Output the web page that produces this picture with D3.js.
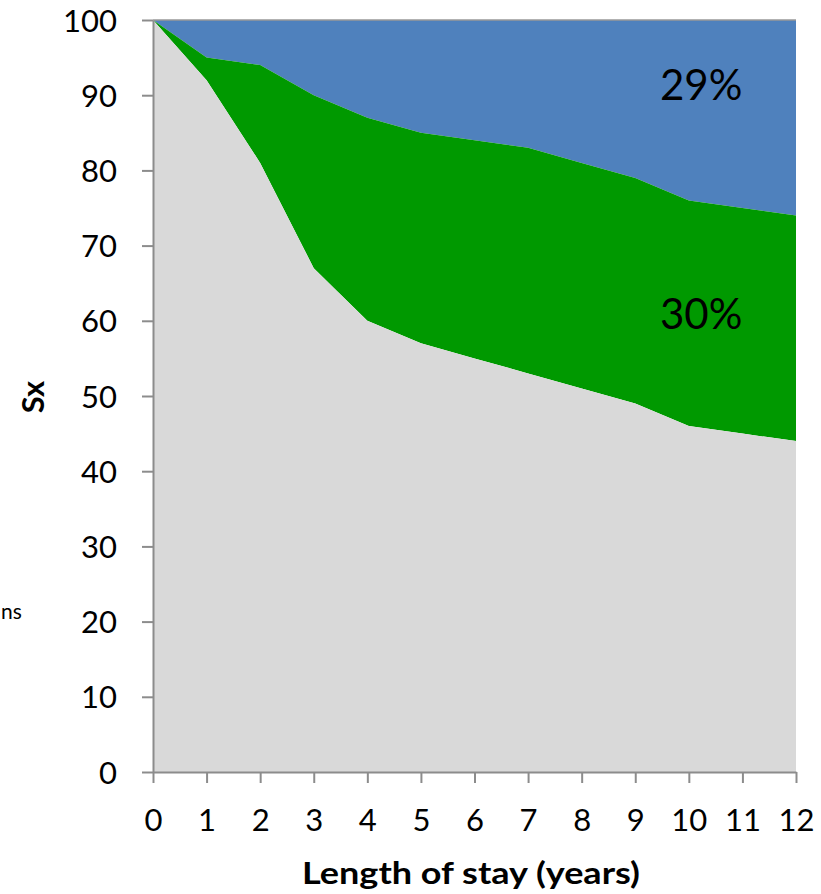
<!DOCTYPE html>
<html><head><meta charset="utf-8">
<script src="https://cdn.jsdelivr.net/npm/d3@7"></script>
<style>body{margin:0;background:#fff}svg{display:block}text{font-family:Lato,"Open Sans",sans-serif}</style>
</head><body>
<svg id="c" width="821" height="894"></svg>
<script>
const years = [0,1,2,3,4,5,6,7,8,9,10,11,12];
const lower = [100,92,81,67,60,57,55,53,51,49,46,45,44];   // grey area top
const upper = [100,95,94,90,87,85,84,83,81,79,76,75,74];   // green area top
const yTicks = [0,10,20,30,40,50,60,70,80,90,100];
const labels = [{x:10.23, y:89.4, t:"29%"},{x:10.23, y:58.9, t:"30%"}];

const svg = d3.select("#c");
const x = d3.scaleLinear().domain([0,12]).range([153,796]);
const y = d3.scaleLinear().domain([0,100]).range([772,20]);

const data = years.map((d,i)=>({x:d, lo:lower[i], up:upper[i]}));
svg.append("path").datum(data).attr("fill","#4F81BD")
  .attr("d", d3.area().x(d=>x(d.x)).y0(d=>y(d.up)).y1(()=>y(100)));
svg.append("path").datum(data).attr("fill","#009900")
  .attr("d", d3.area().x(d=>x(d.x)).y0(d=>y(d.lo)).y1(d=>y(d.up)));
svg.append("path").datum(data).attr("fill","#D9D9D9")
  .attr("d", d3.area().x(d=>x(d.x)).y0(()=>y(0)).y1(d=>y(d.lo)));

svg.append("line").attr("x1",x(0)).attr("x2",x(12)).attr("y1",y(100)).attr("y2",y(100))
  .attr("stroke","#999").attr("stroke-width",1.5);

const yAxis = svg.append("g").attr("transform",`translate(${x(0)},0)`)
  .call(d3.axisLeft(y).tickValues(yTicks).tickSize(11).tickSizeOuter(0).tickPadding(25).tickFormat(d3.format("d")));
const xAxis = svg.append("g").attr("transform",`translate(0,${y(0)})`)
  .call(d3.axisBottom(x).tickValues(years).tickSize(11).tickSizeOuter(0).tickPadding(26).tickFormat(d3.format("d")));
[yAxis,xAxis].forEach(g=>{
  g.selectAll("path,line").attr("stroke","#8c8c8c").attr("stroke-width",2);
  g.selectAll("text").attr("font-size",31).attr("fill","#000");
});
yAxis.selectAll("text").attr("dy","0.36em");
xAxis.selectAll("text").attr("dy","0.72em");

svg.append("text").attr("x",471).attr("y",884).attr("text-anchor","middle")
  .attr("font-size",31).attr("font-weight","bold")
  .attr("textLength",338).attr("lengthAdjust","spacingAndGlyphs").text("Length of stay (years)");
svg.append("text").attr("transform","translate(44,397) rotate(-90)").attr("text-anchor","middle")
  .attr("font-size",31).attr("font-weight","bold").text("Sx");
svg.append("text").attr("x",1).attr("y",619).attr("text-anchor","start")
  .attr("font-size",21).text("ns");

svg.selectAll(".lab").data(labels).join("text").attr("class","lab")
  .attr("x",d=>x(d.x)).attr("y",d=>y(d.y)).attr("text-anchor","middle")
  .attr("font-size",42).attr("fill","#000").text(d=>d.t);
</script>
</body></html>
